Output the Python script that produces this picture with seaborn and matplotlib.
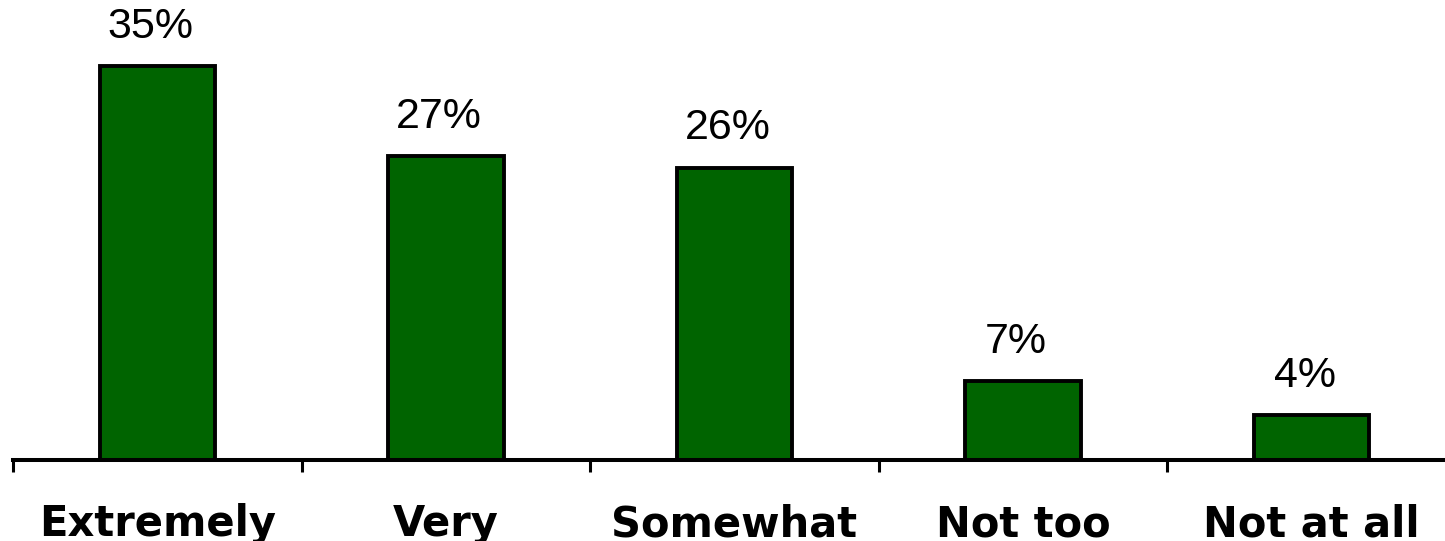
import matplotlib
matplotlib.use("Agg")
import matplotlib.pyplot as plt
import seaborn as sns
import numpy as np

categories = ["Extremely", "Very", "Somewhat", "Not too", "Not at all"]
values = [35, 27, 26, 7, 4]
value_labels = ["35%", "27%", "26%", "7%", "4%"]

sns.set_style("white")
plt.rcParams['font.family'] = ['DejaVu Sans']
plt.rcParams['text.color'] = 'black'
plt.rcParams['xtick.color'] = 'black'
plt.rcParams['xtick.labelcolor'] = 'black'

fig = plt.figure(figsize=(14.45, 5.41), dpi=100)
ax = fig.add_axes([13 / 1445, 81 / 541, 1443 / 1445, 460 / 541])

sns.barplot(x=categories, y=values, color="#006400", saturation=1,
            edgecolor="black", linewidth=2.8, width=0.4, ax=ax)

ax.set_xlim(-0.5, 4.5)
ax.set_ylim(0, 40.9)

for i, (v, lab) in enumerate(zip(values, value_labels)):
    ax.annotate(lab, xy=(i, v), xytext=(-5, 14), textcoords="offset points",
                ha="center", va="bottom", fontsize=31, color="black",
                family=["Liberation Sans", "DejaVu Sans"])

for s in ["left", "top", "right"]:
    ax.spines[s].set_visible(False)
ax.spines["bottom"].set_linewidth(2.9)
ax.spines["bottom"].set_color("black")
ax.set_yticks([])
ax.set_xlabel("")
ax.set_ylabel("")

ax.set_xticks(np.arange(len(categories)))
ax.set_xticklabels(categories, fontsize=30, fontweight="bold", color="black")
ax.set_xticks(np.arange(-0.5, len(categories), 1.0), minor=True)
ax.tick_params(axis="x", which="major", length=0, pad=31)
ax.tick_params(axis="x", which="minor", direction="out", length=8.5, width=2.2, color="black", bottom=True)

fig.savefig("out.png", dpi=100)
